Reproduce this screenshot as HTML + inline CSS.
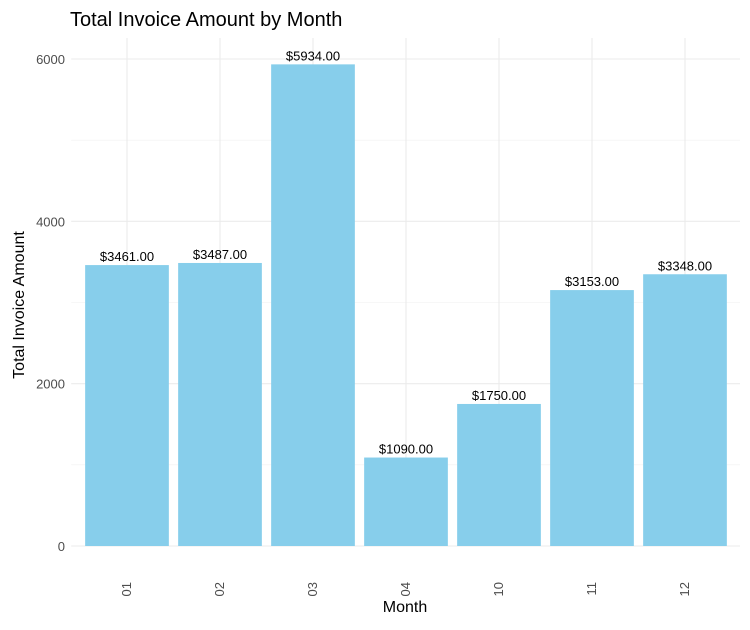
<!DOCTYPE html>
<html><head><meta charset="utf-8"><style>
body{margin:0;background:#fff;font-family:"Liberation Sans",sans-serif}
</style></head><body>
<svg id="chart" width="750" height="625" xmlns="http://www.w3.org/2000/svg">
<text x="70" y="26" font-size="20" fill="#000">Total Invoice Amount by Month</text>
<g id="grid"></g><g id="bars"></g><g id="labels"></g><g id="axes"></g>
<text x="405" y="612" font-size="16" text-anchor="middle" fill="#000">Month</text>
<text transform="translate(24,305) rotate(-90)" font-size="16" text-anchor="middle" fill="#000">Total Invoice Amount</text>
</svg>
<script>
const categories = ["01","02","03","04","10","11","12"];
const values = [3461,3487,5934,1090,1750,3153,3348];
const yTicks = [0,2000,4000,6000];
const yMinor = [1000,3000,5000];
const NS="http://www.w3.org/2000/svg";
const panelL=71.2, step=93, y0=546, pxPer=(546-59)/6000;
const xc=i=>panelL+step*0.6+i*step;
const y=v=>y0-v*pxPer;
function mk(tag,attrs,parent){const e=document.createElementNS(NS,tag);for(const k in attrs)e.setAttribute(k,attrs[k]);document.getElementById(parent).appendChild(e);return e;}
yMinor.forEach(v=>{const l=mk("line",{x1:panelL,x2:740,y1:y(v),y2:y(v),stroke:"#f0f0f0","stroke-width":0.6},"grid");

});
yTicks.forEach(v=>{const l=mk("line",{x1:panelL,x2:740,y1:y(v),y2:y(v),stroke:"#ebebeb","stroke-width":1.1},"grid");


const t=mk("text",{x:65,y:y(v)+5,"font-size":13,"text-anchor":"end",fill:"#4d4d4d"},"axes");t.textContent=v;

});
categories.forEach((c,i)=>{const l=mk("line",{x1:xc(i),x2:xc(i),y1:38,y2:546,stroke:"#ebebeb","stroke-width":1.1},"grid");


const w=step*0.9;
const b=mk("rect",{x:xc(i)-w/2,y:y(values[i]),width:w,height:y0-y(values[i]),fill:"#87ceeb"},"bars");


const t=mk("text",{x:xc(i),y:y(values[i])-4,"font-size":13,"text-anchor":"middle",fill:"#000"},"labels");t.textContent="$"+values[i].toFixed(2);


const xt=mk("text",{transform:`translate(${xc(i)+4},582) rotate(-90)`,"font-size":13,"text-anchor":"end",fill:"#4d4d4d"},"axes");xt.textContent=c;

});
</script>
</body></html>
